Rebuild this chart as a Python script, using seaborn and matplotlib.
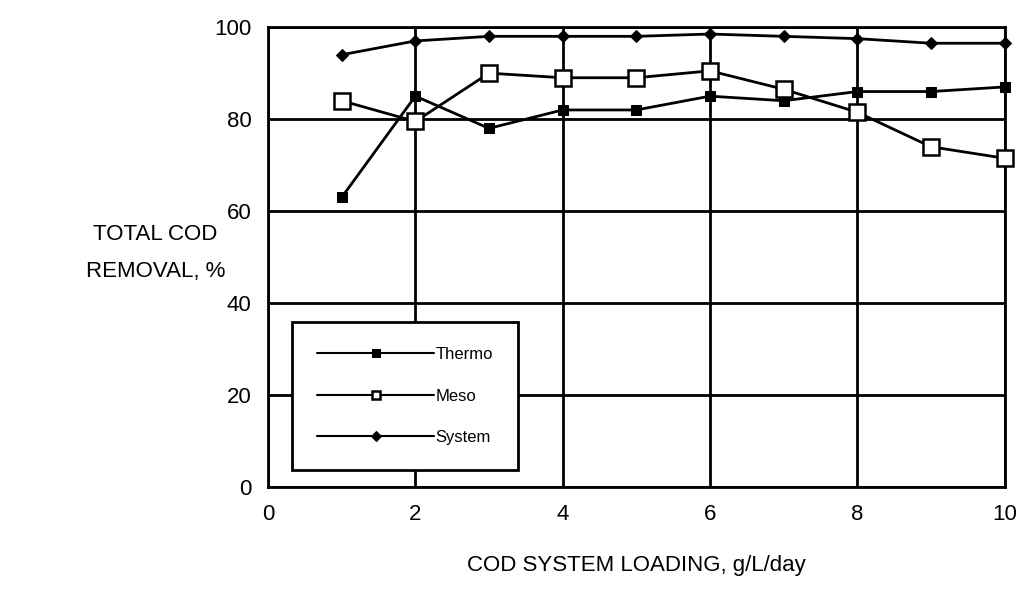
import numpy as np
import pandas as pd
import matplotlib
matplotlib.use("Agg")
import matplotlib.pyplot as plt
import seaborn as sns

# -------------------- Data --------------------

loading = [1, 2, 3, 4, 5, 6, 7, 8, 9, 10]
thermo = [63, 85, 78, 82, 82, 85, 84, 86, 86, 87]
meso = [84, 79.5, 90, 89, 89, 90.5, 86.5, 81.5, 74, 71.5]
system = [94, 97, 98, 98, 98, 98.5, 98, 97.5, 96.5, 96.5]

df = pd.DataFrame({"loading": loading, "Thermo": thermo, "Meso": meso, "System": system})

# -------------------- Plot --------------------

sns.set_style("white")
plt.rcParams["font.family"] = ["Liberation Sans", "DejaVu Sans"]
plt.rcParams["text.color"] = "black"
plt.rcParams["axes.labelcolor"] = "black"
plt.rcParams["xtick.color"] = "black"
plt.rcParams["ytick.color"] = "black"

fig = plt.figure(figsize=(10.21, 6.03), dpi=100)
ax = fig.add_axes([0.2625, 0.192, 0.7215, 0.763])

styles = {
    "Thermo": dict(marker="s", markersize=7, markerfacecolor="black"),
    "Meso": dict(marker="s", markersize=11, markerfacecolor="white", markeredgewidth=1.8),
    "System": dict(marker="D", markersize=6, markerfacecolor="black"),
}
for name in ["Thermo", "Meso", "System"]:
    sns.lineplot(data=df, x="loading", y=name, ax=ax, color="black", linewidth=2,
                 markeredgecolor="black", label=name, clip_on=False, zorder=3,
                 **styles[name])

ax.set_xlim(0, 10)
ax.set_ylim(0, 100)
ax.set_xticks([0, 2, 4, 6, 8, 10])
ax.set_yticks([0, 20, 40, 60, 80, 100])
ax.grid(True, color="black", linewidth=2)
for s in ax.spines.values():
    s.set_visible(True)
    s.set_color("black")
    s.set_linewidth(2)
ax.tick_params(length=0, labelsize=16, pad=12)

ax.set_xlabel("COD SYSTEM LOADING, g/L/day", fontsize=16, labelpad=22)
ax.set_ylabel("")
fig.text(0.152, 0.58, "TOTAL COD\nREMOVAL, %", fontsize=16, ha="center", va="center",
         linespacing=2.0)

leg = ax.legend(loc="lower left", bbox_to_anchor=(0.033, 0.037), fontsize=12,
                frameon=True, fancybox=False, edgecolor="black", framealpha=1,
                handlelength=7, borderpad=1.5, labelspacing=1.6, handletextpad=0.1,
                borderaxespad=0)
leg.get_frame().set_linewidth(2)
for h in leg.legend_handles:
    h.set_markersize(6 if h.get_marker() != "D" else 5)
    h.set_linewidth(1.5)

plt.savefig("out.png", dpi=100)
